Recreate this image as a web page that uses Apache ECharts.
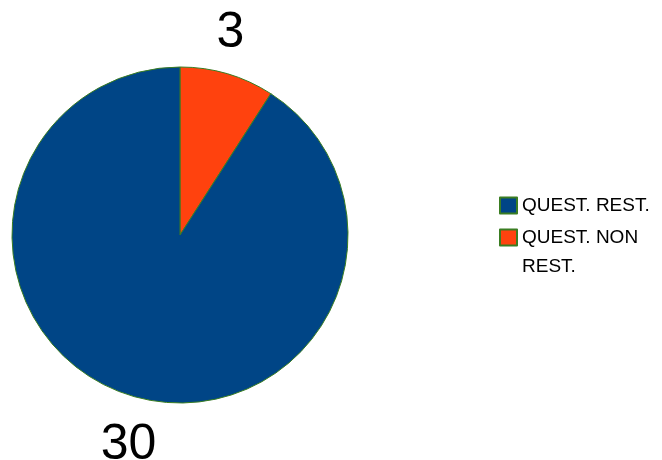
<!DOCTYPE html>
<html>
<head>
<meta charset="utf-8">
<script src="https://cdn.jsdelivr.net/npm/echarts@6/dist/echarts.min.js"></script>
<style>html,body{margin:0;padding:0;background:#fff;}#c{width:662px;height:460px;}</style>
</head>
<body>
<div id="c"></div>
<script>
const categories = ['QUEST. NON REST.', 'QUEST. REST.'];
const values = [3, 30];
const colors = ['#ff420e', '#004586'];
const legendOrder = ['QUEST. REST.', 'QUEST. NON REST.'];

const chart = echarts.init(document.getElementById('c'));
const pieData = categories.map((n, i) => ({ name: n, value: values[i], itemStyle: { color: colors[i] } }));
const labelOffsets = [[-9, 1], [8, 8]];
const labelData = categories.map((n, i) => ({ name: n, value: values[i], label: { offset: labelOffsets[i] } }));
chart.setOption({
  animation: false,
  backgroundColor: '#ffffff',
  legend: {
    orient: 'vertical',
    left: 494,
    top: 186,
    itemWidth: 17,
    itemHeight: 16,
    itemGap: -26,
    icon: 'rect',
    selectedMode: false,
    formatter: function (name) { return name === 'QUEST. NON REST.' ? '\n' + name : name; },
    textStyle: { fontFamily: 'Liberation Sans', fontSize: 19, color: '#000', lineHeight: 29, width: 140, overflow: 'break' },
    data: legendOrder
  },
  series: [
    {
      type: 'pie',
      center: [180, 235],
      radius: 168,
      startAngle: 90,
      clockwise: true,
      silent: true,
      label: { show: false },
      labelLine: { show: false },
      itemStyle: { borderColor: '#3a7d22', borderWidth: 1 },
      data: pieData
    },
    {
      type: 'pie',
      center: [180, 235],
      radius: [168, 248],
      startAngle: 90,
      clockwise: true,
      silent: true,
      itemStyle: { color: 'rgba(0,0,0,0)' },
      label: { show: true, position: 'inside', formatter: '{c}', fontFamily: 'Liberation Sans', fontSize: 50, color: '#000' },
      labelLine: { show: false },
      data: labelData
    }
  ]
});
</script>
</body>
</html>
